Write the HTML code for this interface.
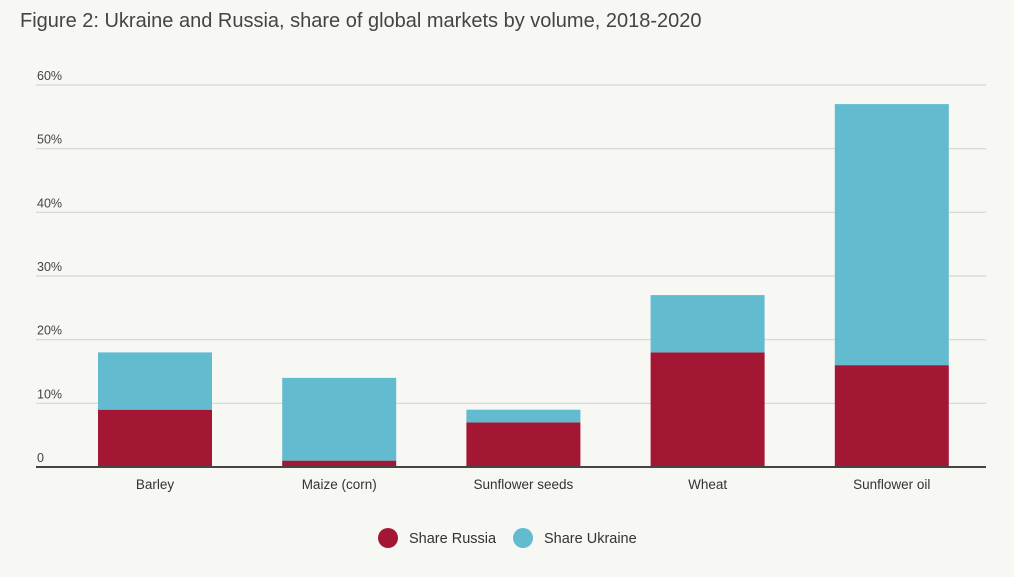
<!DOCTYPE html>
<html><head><meta charset="utf-8"><style>
body{margin:0;background:#f7f7f3;width:1014px;height:572px;overflow:hidden;font-family:"Liberation Sans",sans-serif;}
svg text{font-family:"Liberation Sans",sans-serif;}
</style></head><body>
<svg id="chart" width="1014" height="572">
<text x="20" y="27" font-size="20" fill="#444">Figure 2: Ukraine and Russia, share of global markets by volume, 2018-2020</text>
<g id="grid"></g><g id="bars"></g><g id="xlabels"></g>
<line x1="36" x2="986" y1="467" y2="467" stroke="#444" stroke-width="2"/>
<g>
<circle cx="388" cy="538" r="10" fill="#a31735"/>
<text x="409" y="543" font-size="14.5" fill="#333">Share Russia</text>
<circle cx="523" cy="538" r="10" fill="#62bbcf"/>
<text x="544" y="543" font-size="14.5" fill="#333">Share Ukraine</text>
</g>
</svg>
<script>
const categories=["Barley","Maize (corn)","Sunflower seeds","Wheat","Sunflower oil"];
const russia=[9,1,7,18,16];
const ukraine=[9,13,2,9,41];
const ticks=[0,10,20,30,40,50,60];
const ns="http://www.w3.org/2000/svg";
const y=v=>467-v*(382/60);
const xc=i=>155+i*184.2;
function mk(t,a,p){const e=document.createElementNS(ns,t);for(const k in a)e.setAttribute(k,a[k]);p.appendChild(e);return e;}
const g=document.getElementById('grid');
ticks.forEach(t=>{
 if(t>0){const l=mk('line',{x1:36,x2:986,y1:y(t),y2:y(t),stroke:'#d6d6d2','stroke-width':1.2},g);
 
 }
 const tx=mk('text',{x:37,y:y(t)-5,'font-size':12.5,fill:'#444'},g);
 tx.textContent=t===0?'0':t+'%';
 
 
});
const b=document.getElementById('bars'),xl=document.getElementById('xlabels');
categories.forEach((c,i)=>{
 const x=xc(i)-57,w=114;
 const r=mk('rect',{x:x,y:y(russia[i]),width:w,height:y(0)-y(russia[i]),fill:'#a31735'},b);
 
 
 const u=mk('rect',{x:x,y:y(russia[i]+ukraine[i]),width:w,height:y(russia[i])-y(russia[i]+ukraine[i]),fill:'#62bbcf'},b);
 
 
 const t=mk('text',{x:xc(i),y:489,'font-size':13.5,fill:'#333','text-anchor':'middle'},xl);
 t.textContent=c;
 
 
});
</script>
</body></html>
